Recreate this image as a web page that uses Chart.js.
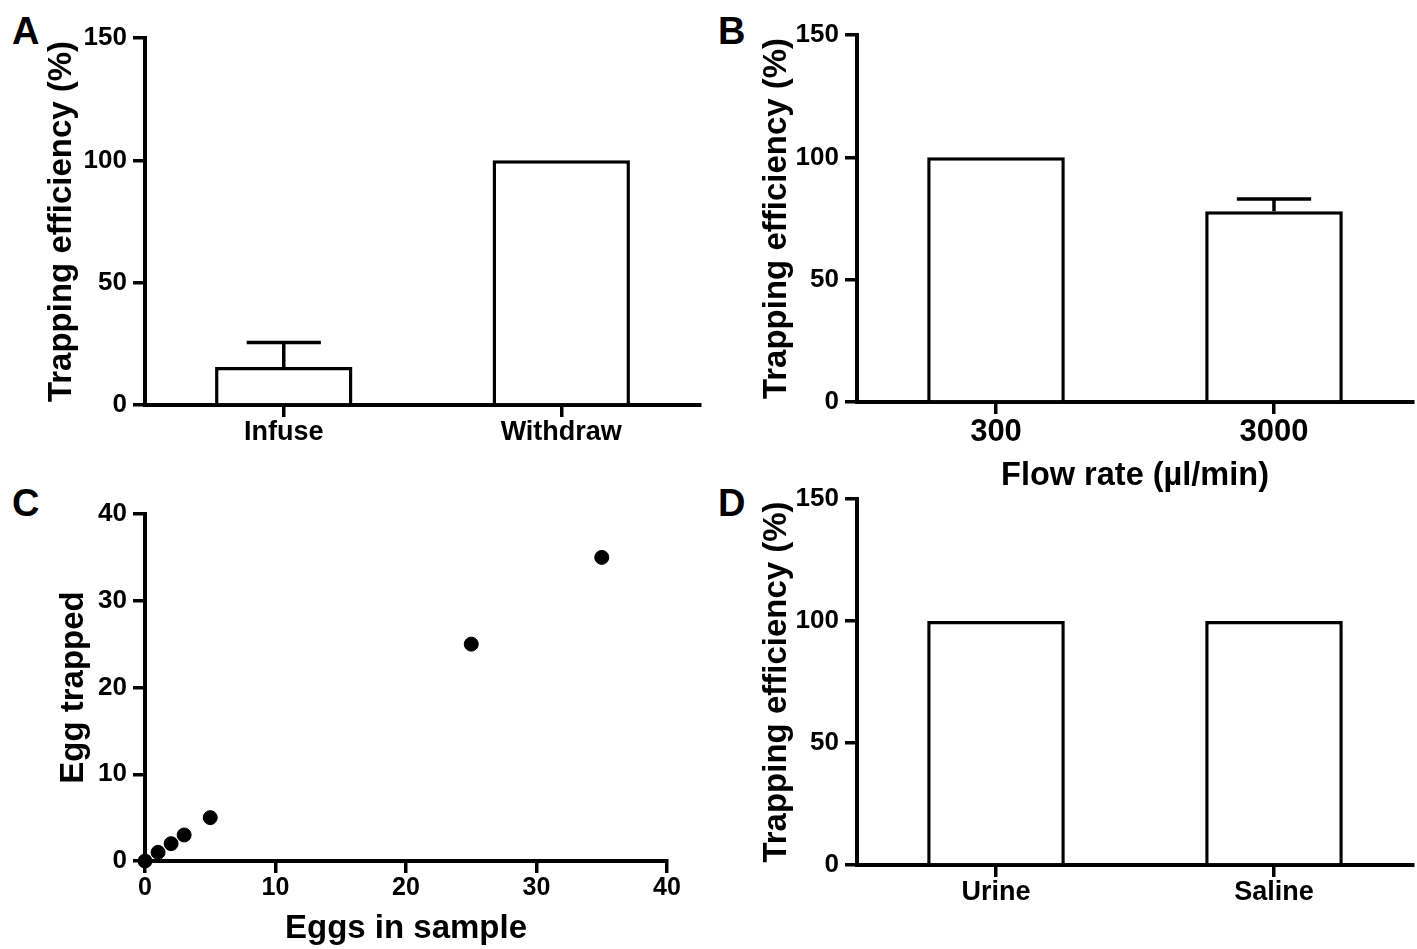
<!DOCTYPE html>
<html>
<head>
<meta charset="utf-8">
<script src="https://cdn.jsdelivr.net/npm/chart.js@4"></script>
<style>
  body { margin: 0; background: #fff; width: 1417px; height: 949px; position: relative; overflow: hidden; }
  canvas { position: absolute; }
  .letter { position: absolute; font: bold 38px 'Liberation Sans', Arial, sans-serif; color: #000; line-height: 1; }
</style>
</head>
<body>
<div class="letter" style="left:12px;top:12px">A</div>
<div class="letter" style="left:718px;top:12px">B</div>
<div class="letter" style="left:12px;top:484px">C</div>
<div class="letter" style="left:718px;top:484px">D</div>

<canvas id="chartA" width="708" height="460" style="left:0;top:0"></canvas>
<canvas id="chartB" width="705" height="500" style="left:712px;top:0"></canvas>
<canvas id="chartC" width="708" height="479" style="left:0;top:470px"></canvas>
<canvas id="chartD" width="705" height="469" style="left:712px;top:480px"></canvas>

<script>
// data
const methodLabels = ['Infuse', 'Withdraw'];
const methodValues = [15.5, 100];
const methodErrors = [10, 0];

const flowLabels = ['300', '3000'];
const flowValues = [100, 78];
const flowErrors = [0, 5];

const fluidLabels = ['Urine', 'Saline'];
const fluidValues = [100, 100];
const fluidErrors = [0, 0];

const eggsInSample = [0, 1, 2, 3, 5, 25, 35];
const eggsTrapped = [0, 1, 2, 3, 5, 25, 35];

const pctTicks = [0, 50, 100, 150];
const eggTicks = [0, 10, 20, 30, 40];

Chart.defaults.color = '#000';
Chart.defaults.font.family = "'Liberation Sans', Arial, sans-serif";
Chart.defaults.font.weight = 'bold';

// error bars (upper only), drawn from the dataset's errors array
const errorBars = {
    id: 'errorBars',
    afterDatasetsDraw(chart) {
        const errs = chart.options.plugins.errorBars.errors;
        if (!errs) return;
        const meta = chart.getDatasetMeta(0);
        const yScale = chart.scales.y;
        const ctx = chart.ctx;
        const vals = chart.data.datasets[0].data;
        ctx.save();
        ctx.strokeStyle = '#000';
        ctx.lineWidth = 3.5;
        meta.data.forEach((bar, i) => {
            if (!errs[i]) return;
            const yTop = yScale.getPixelForValue(vals[i] + errs[i]);
            const yBar = yScale.getPixelForValue(vals[i]);
            const half = bar.width * 0.27;
            ctx.beginPath();
            ctx.moveTo(bar.x, yBar);
            ctx.lineTo(bar.x, yTop);
            ctx.moveTo(bar.x - half, yTop);
            ctx.lineTo(bar.x + half, yTop);
            ctx.stroke();
        });
        ctx.restore();
    }
};

function yAxis(ticks, title, titleSize, titlePad, tickSize) {
    return {
        min: ticks[0],
        max: ticks[ticks.length - 1],
        afterFit: s => { s.width = 145; },
        ticks: { stepSize: ticks[1] - ticks[0], padding: 6, font: { size: tickSize, lineHeight: 1 } },
        border: { display: true, color: '#000', width: 4 },
        grid: { drawOnChartArea: false, drawTicks: true, tickLength: 12, color: '#000', lineWidth: 3.5 },
        title: { display: true, text: title, font: { size: titleSize, weight: 'bold' }, padding: { top: titlePad, bottom: 0 } }
    };
}

function makeBarChart(id, labels, values, errors, cfg) {
    const xScale = {
        type: 'category',
        offset: true,
        afterFit: s => { s.height = cfg.xHeight; },
        ticks: { padding: cfg.xPad, font: { size: cfg.xTickSize, lineHeight: 1 } },
        border: { display: true, color: '#000', width: 4 },
        grid: { offset: false, drawOnChartArea: false, drawTicks: true, tickLength: 12, color: '#000', lineWidth: 3.5 }
    };
    if (cfg.xTitle) {
        xScale.title = { display: true, text: cfg.xTitle, font: { size: 32.5, weight: 'bold' }, padding: { top: 0, bottom: cfg.xTitlePad } };
    }
    return new Chart(document.getElementById(id), {
        type: 'bar',
        data: {
            labels: labels,
            datasets: [{
                data: values,
                backgroundColor: '#fff',
                borderColor: '#000',
                borderWidth: 3.5,
                borderSkipped: 'bottom',
                categoryPercentage: 1,
                barPercentage: 0.495
            }]
        },
        options: {
            responsive: false,
            animation: false,
            devicePixelRatio: 1,
            layout: { padding: { top: cfg.top, right: cfg.right, left: 0, bottom: 0 } },
            plugins: { legend: { display: false }, tooltip: { enabled: false }, errorBars: { errors: errors } },
            scales: {
                x: xScale,
                y: yAxis(pctTicks, 'Trapping efficiency (%)', 33, cfg.yTitlePad, 26)
            }
        },
        plugins: [errorBars]
    });
}

makeBarChart('chartA', methodLabels, methodValues, methodErrors,
    { top: 38, right: 8, xHeight: 55, xPad: 2, xTickSize: 27, yTitlePad: 42 });
makeBarChart('chartB', flowLabels, flowValues, flowErrors,
    { top: 35, right: 4, xHeight: 98, xPad: 3, xTickSize: 31, yTitlePad: 45, xTitle: 'Flow rate (µl/min)', xTitlePad: 4 });
makeBarChart('chartD', fluidLabels, fluidValues, fluidErrors,
    { top: 17, right: 4, xHeight: 84, xPad: 2, xTickSize: 27, yTitlePad: 45 });

// scatter panel
new Chart(document.getElementById('chartC'), {
    type: 'scatter',
    data: {
        datasets: [{
            data: eggsInSample.map((x, i) => ({ x: x, y: eggsTrapped[i] })),
            backgroundColor: '#000',
            borderColor: '#000',
            pointRadius: 7,
            pointHoverRadius: 7,
            clip: false
        }]
    },
    options: {
        responsive: false,
        animation: false,
        devicePixelRatio: 1,
        layout: { padding: { top: 44, right: 41, left: 0, bottom: 0 } },
        plugins: { legend: { display: false }, tooltip: { enabled: false } },
        scales: {
            x: {
                type: 'linear',
                min: eggTicks[0],
                max: eggTicks[eggTicks.length - 1],
                afterFit: s => { s.height = 88; },
                ticks: { stepSize: eggTicks[1] - eggTicks[0], padding: 3, font: { size: 25, lineHeight: 1 } },
                border: { display: true, color: '#000', width: 4 },
                grid: { drawOnChartArea: false, drawTicks: true, tickLength: 12, color: '#000', lineWidth: 3.5 },
                title: { display: true, text: 'Eggs in sample', font: { size: 33, weight: 'bold' }, padding: { top: 0, bottom: 0 } }
            },
            y: yAxis(eggTicks, 'Egg trapped', 33, 54, 26)
        }
    }
});
</script>
</body>
</html>
